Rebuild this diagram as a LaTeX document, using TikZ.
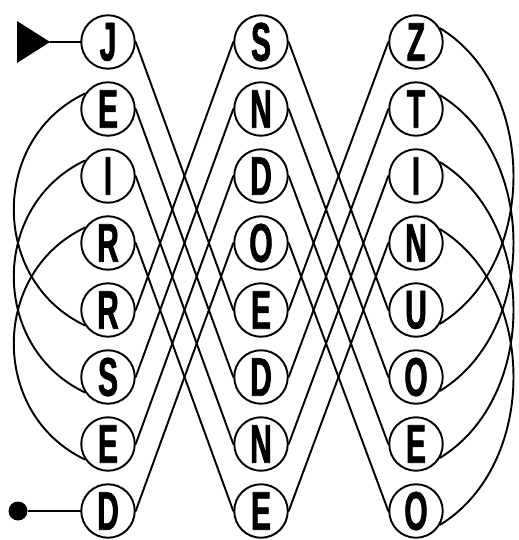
\documentclass[tikz,border=0pt]{standalone}
\usepackage{fontspec}
\newfontfamily\wheelfont[FakeStretch=0.55, FakeBold=1.2]{Liberation Sans Bold}
\usetikzlibrary{calc}

\begin{document}
\begin{tikzpicture}[
  x=0.02cm, y=-0.02cm, line width=1.1pt, line cap=round, line join=round,
  ring/.style={circle, draw, minimum size=1.07cm, inner sep=0pt, fill=white,
               font=\fontsize{31}{31}\wheelfont},
  wire/.style={line width=1.1pt}]

\useasboundingbox (0,0) rectangle (518,540);

% ================================================================ wheels
\foreach \t [count=\i] in {J,E,I,R,R,S,E,D}
  \node[ring] (a\i) at (108,{42+67*(\i-1)}) {\t};
\foreach \t [count=\i] in {S,N,D,O,E,D,N,E}
  \node[ring] (b\i) at (261,{42+67*(\i-1)}) {\t};
\foreach \t [count=\i] in {Z,T,I,N,U,O,E,O}
  \node[ring] (c\i) at (416,{42+67*(\i-1)}) {\t};

% ================================================================ crossings
\foreach \i in {1,...,4} {
  \pgfmathtruncatemacro\j{\i+4}
  \draw[wire] (a\i.east) -- (b\j.west);
  \draw[wire] (a\j.east) -- (b\i.west);
  \draw[wire] (b\i.east) -- (c\j.west);
  \draw[wire] (b\j.east) -- (c\i.west);
  % right loops
  \draw[wire] (c\i.30) .. controls +(98,60) and +(98,-60) .. (c\j.-30);
}

% left loops
\foreach \i in {2,3,4} {
  \pgfmathtruncatemacro\j{\i+3}
  \draw[wire] (a\i.146) .. controls +(-95,45) and +(-95,-45) .. (a\j.214);
}

% ================================================================ in / out
\coordinate (inlet) at (50,42);
\fill (inlet) -- ++(-33,-21) -- ++(0,42) -- cycle;
\draw[wire] (inlet) -- (a1.west);

\node[circle, fill, minimum size=0.38cm, inner sep=0pt] (outlet) at (18,511) {};
\draw[wire] (outlet) -- (a8.west);

\end{tikzpicture}
\end{document}
